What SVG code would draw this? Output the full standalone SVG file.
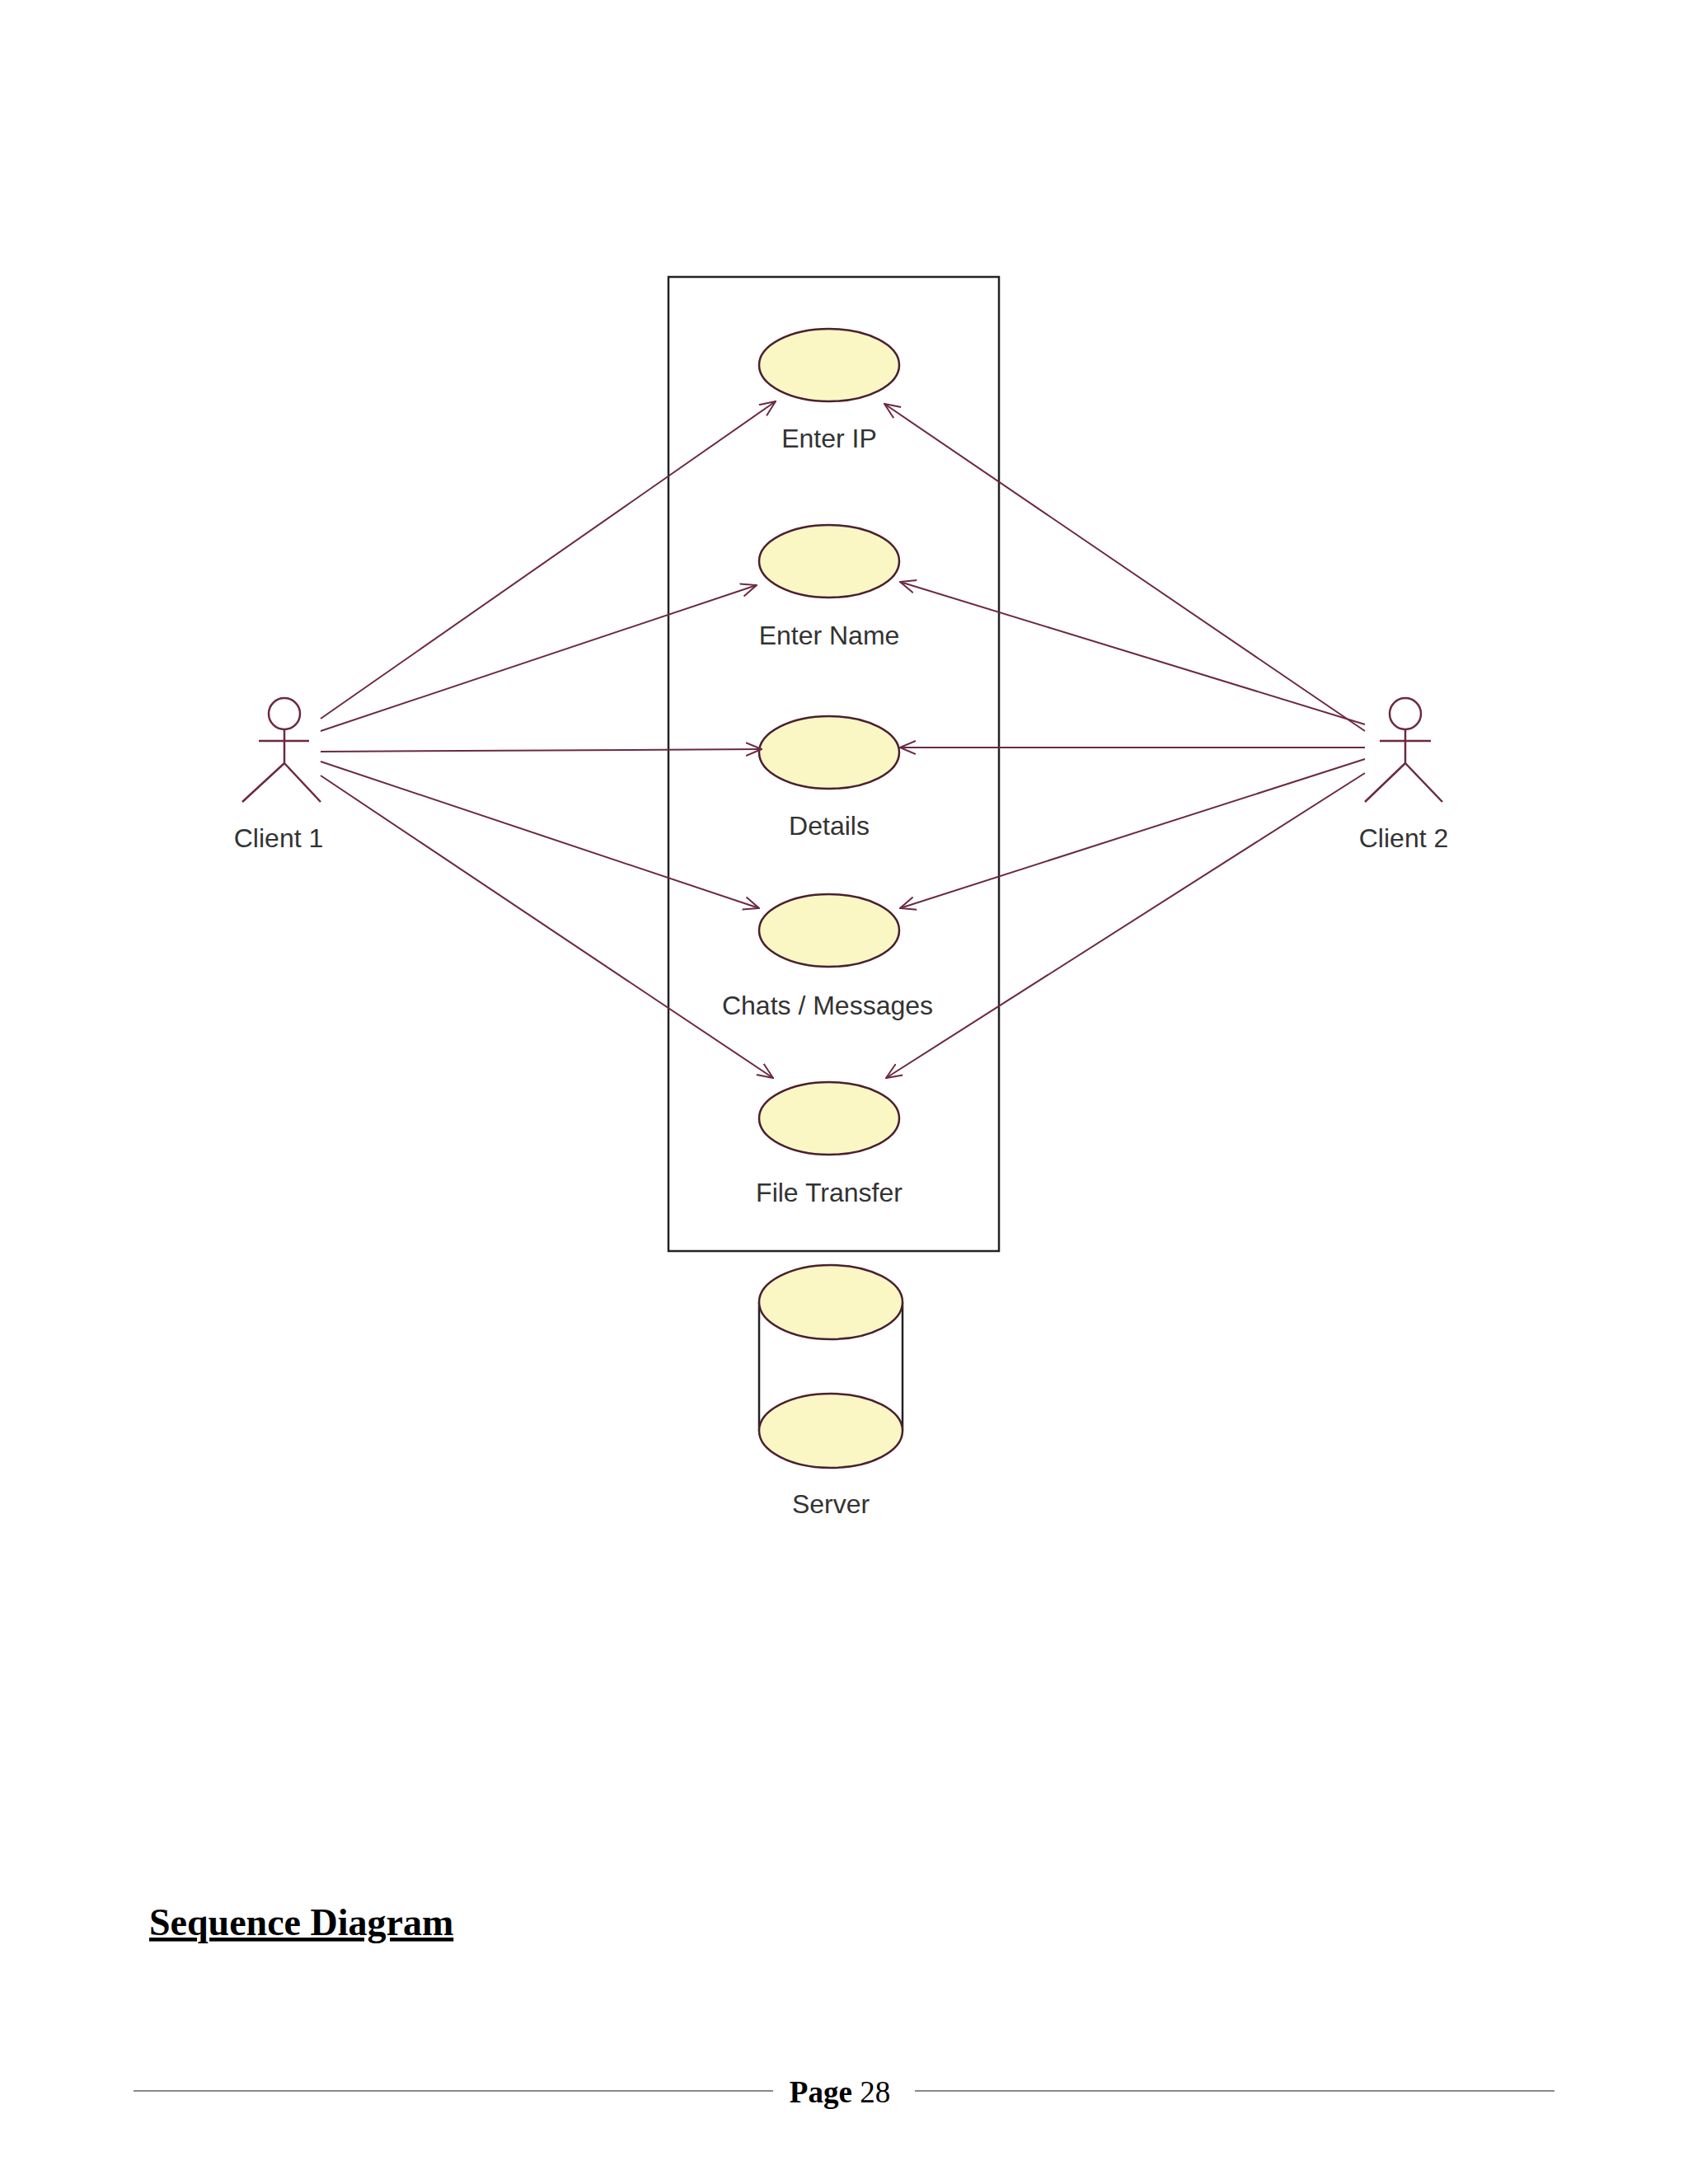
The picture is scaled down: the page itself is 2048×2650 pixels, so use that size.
<svg xmlns="http://www.w3.org/2000/svg" width="2048" height="2650" viewBox="0 0 2048 2650">
<style>
.uc{fill:#fbf7c4;stroke:#4a2030;stroke-width:2.5}
.lbl{font-family:"Liberation Sans",Arial,sans-serif;font-size:32px;fill:#333;text-anchor:middle}
.act{fill:none;stroke:#6b2942;stroke-width:2.5}
.con line{stroke:#6b2942;stroke-width:2}
</style>
<defs>
<marker id="ar" viewBox="0 0 20 20" refX="19" refY="10" markerWidth="20" markerHeight="20" markerUnits="userSpaceOnUse" orient="auto">
<path d="M0,2 L19,10 L0,18" fill="none" stroke="#6b2942" stroke-width="2"/>
</marker>
</defs>
<rect width="2048" height="2650" fill="#fff"/>
<rect id="system" x="811" y="336" width="401" height="1182" fill="none" stroke="#222" stroke-width="2.5"/>
<g id="enterip"><ellipse class="uc" cx="1006" cy="443" rx="85" ry="44"/><text class="lbl" x="1006" y="543">Enter IP</text></g>
<g id="entername"><ellipse class="uc" cx="1006" cy="681" rx="85" ry="44"/><text class="lbl" x="1006" y="782">Enter Name</text></g>
<g id="details"><ellipse class="uc" cx="1006" cy="913" rx="85" ry="44"/><text class="lbl" x="1006" y="1013">Details</text></g>
<g id="chats"><ellipse class="uc" cx="1006" cy="1129" rx="85" ry="44"/><text class="lbl" x="1004" y="1231">Chats / Messages</text></g>
<g id="filetransfer"><ellipse class="uc" cx="1006" cy="1357" rx="85" ry="44"/><text class="lbl" x="1006" y="1458">File Transfer</text></g>
<g id="server">
<line x1="921" y1="1580" x2="921" y2="1736" stroke="#222" stroke-width="2.5"/>
<line x1="1095" y1="1580" x2="1095" y2="1736" stroke="#222" stroke-width="2.5"/>
<ellipse class="uc" cx="1008" cy="1736" rx="87" ry="45"/>
<ellipse class="uc" cx="1008" cy="1580" rx="87" ry="45"/>
<text class="lbl" x="1008" y="1836">Server</text>
</g>
<g id="client1">
<circle class="act" cx="345" cy="866" r="19"/>
<path class="act" d="M345,885 V926 M314,899 H375 M345,926 L294,973 M345,926 L389,973"/>
<text class="lbl" x="338" y="1028">Client 1</text>
</g>
<g id="client2">
<circle class="act" cx="1705" cy="866" r="19"/>
<path class="act" d="M1705,885 V926 M1674,899 H1736 M1705,926 L1656,973 M1705,926 L1750,973"/>
<text class="lbl" x="1703" y="1028">Client 2</text>
</g>
<g class="con" id="connectors">
<line x1="389" y1="872" x2="941" y2="487" marker-end="url(#ar)"/>
<line x1="389" y1="887" x2="918" y2="710" marker-end="url(#ar)"/>
<line x1="389" y1="912" x2="924" y2="909" marker-end="url(#ar)"/>
<line x1="389" y1="924" x2="921" y2="1102" marker-end="url(#ar)"/>
<line x1="389" y1="941" x2="938" y2="1308" marker-end="url(#ar)"/>
<line x1="1656" y1="887" x2="1073" y2="490" marker-end="url(#ar)"/>
<line x1="1656" y1="879" x2="1092" y2="706" marker-end="url(#ar)"/>
<line x1="1656" y1="907" x2="1092" y2="907" marker-end="url(#ar)"/>
<line x1="1656" y1="921" x2="1092" y2="1102" marker-end="url(#ar)"/>
<line x1="1656" y1="938" x2="1075" y2="1308" marker-end="url(#ar)"/>
</g>
<text x="181" y="2348" font-family="'Liberation Serif',serif" font-size="46" font-weight="bold" fill="#000" text-decoration="underline">Sequence Diagram</text>
<line x1="162" y1="2537" x2="938" y2="2537" stroke="#888" stroke-width="2"/>
<line x1="1110" y1="2537" x2="1886" y2="2537" stroke="#888" stroke-width="2"/>
<text x="1019" y="2551" font-family="'Liberation Serif',serif" font-size="37" text-anchor="middle" fill="#000"><tspan font-weight="bold">Page</tspan> 28</text>
</svg>
